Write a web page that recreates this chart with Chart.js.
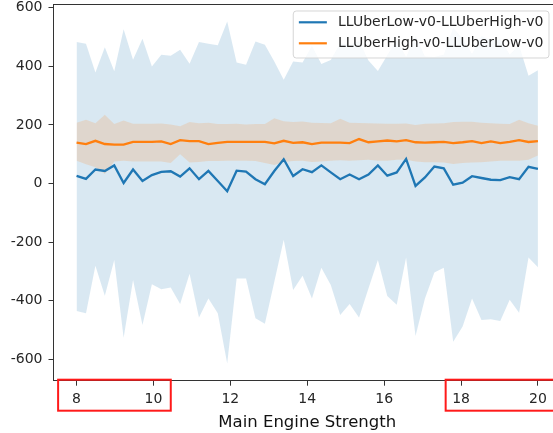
<!DOCTYPE html>
<html>
<head>
<meta charset="utf-8">
<script src="https://cdn.jsdelivr.net/npm/chart.js@4.4.0/dist/chart.umd.min.js"></script>
<style>
  html, body { margin: 0; padding: 0; background: #fff; overflow: hidden; }
  #wrap { width: 553px; height: 433px; overflow: hidden; position: relative; }
  canvas { display: block; }
</style>
</head>
<body>
<div id="wrap"><canvas id="c" width="600" height="433"></canvas></div>
<script>
// Main engine strength settings that were evaluated
const strengths = [
  8.000, 8.245, 8.490, 8.735, 8.980, 9.224, 9.469, 9.714, 9.959, 10.204,
  10.449, 10.694, 10.939, 11.184, 11.429, 11.673, 11.918, 12.163, 12.408, 12.653,
  12.898, 13.143, 13.388, 13.633, 13.878, 14.122, 14.367, 14.612, 14.857, 15.102,
  15.347, 15.592, 15.837, 16.082, 16.327, 16.571, 16.816, 17.061, 17.306, 17.551,
  17.796, 18.041, 18.286, 18.531, 18.776, 19.020, 19.265, 19.510, 19.755, 20.000
];

// LLUberLow-v0 -> LLUberHigh-v0 : mean return and the upper / lower band edges
const lowHighMean = [
  26, 16, 48, 43, 62, 2, 48, 9, 29, 40,
  42, 24, 52, 15, 43, 9, -26, 44, 41, 15,
  -2, 43, 83, 26, 49, 39, 62, 38, 15, 31,
  15, 31, 62, 27, 38, 84, -8, 21, 58, 52,
  -4, 3, 25, 19, 13, 12, 22, 15, 57, 50
];
const lowHighUpper = [
  483, 477, 379, 465, 383, 527, 423, 494, 400, 440,
  436, 457, 409, 483, 477, 472, 553, 413, 406, 485,
  474, 417, 354, 417, 413, 470, 408, 422, 479, 473,
  487, 420, 384, 438, 490, 432, 504, 434, 432, 440,
  532, 494, 442, 504, 489, 493, 441, 471, 368, 387
];
const lowHighLower = [
  -435, -443, -281, -383, -261, -526, -329, -483, -344, -361,
  -355, -411, -308, -457, -392, -443, -614, -324, -324, -460,
  -479, -335, -192, -363, -315, -392, -287, -346, -449, -411,
  -457, -358, -261, -384, -414, -252, -520, -392, -304, -287,
  -540, -488, -392, -466, -463, -469, -397, -441, -252, -286
];

// LLUberHigh-v0 -> LLUberLow-v0 : mean return and the upper / lower band edges
const highLowMean = [
  140, 135, 146, 135, 133, 133, 142, 142, 142, 144,
  135, 148, 145, 145, 135, 139, 142, 142, 142, 142,
  142, 137, 146, 139, 141, 135, 140, 140, 140, 138,
  152, 141, 144, 147, 144, 148, 141, 140, 141, 142,
  138, 141, 145, 138, 144, 138, 142, 148, 142, 145
];
const highLowUpper = [
  208, 218, 206, 235, 203, 215, 204, 204, 204, 205,
  202, 196, 210, 206, 208, 203, 203, 204, 202, 203,
  203, 223, 213, 210, 212, 208, 207, 206, 221, 208,
  207, 206, 205, 204, 204, 205, 200, 204, 205, 206,
  210, 211, 211, 208, 206, 204, 203, 218, 206, 197
];
const highLowLower = [
  78, 66, 56, 33, 75, 78, 75, 75, 75, 75,
  70, 100, 72, 74, 77, 77, 78, 78, 78, 77,
  70, 63, 74, 77, 78, 74, 75, 78, 80, 78,
  80, 81, 78, 78, 81, 81, 75, 73, 73, 72,
  67, 70, 72, 73, 75, 78, 78, 78, 81, 96
];

const xTickValues = [8, 10, 12, 14, 16, 18, 20];
const yTickValues = [-600, -400, -200, 0, 200, 400, 600];
const seriesNames = ['LLUberLow-v0-LLUberHigh-v0', 'LLUberHigh-v0-LLUberLow-v0'];
const xAxisTitle = 'Main Engine Strength';
// tick-label groups outlined in red underneath the axis
const highlightRanges = [[7.52, 10.45], [17.6, 21.0]];

const BLUE = '#1f77b4';
const ORANGE = '#ff7f0e';
const BLUE_BAND = 'rgba(31,119,180,0.17)';
const ORANGE_BAND = 'rgba(255,127,14,0.16)';
const INK = '#262626';
const SPINE = '#333333';

const pts = ys => strengths.map((x, i) => ({ x: x, y: ys[i] }));

Chart.defaults.font.family = '"DejaVu Sans", sans-serif';

// top spine of the axes box
const topSpine = {
  id: 'topSpine',
  afterDatasetsDraw(chart) {
    const { ctx, chartArea } = chart;
    ctx.save();
    ctx.strokeStyle = SPINE;
    ctx.lineWidth = 1;
    ctx.beginPath();
    ctx.moveTo(chartArea.left, Math.round(chartArea.top) + 0.5);
    ctx.lineTo(chartArea.right, Math.round(chartArea.top) + 0.5);
    ctx.stroke();
    ctx.restore();
  }
};

// framed legend in the upper right corner of the axes
const boxLegend = {
  id: 'boxLegend',
  afterDatasetsDraw(chart) {
    const { ctx, chartArea } = chart;
    const entries = [chart.data.datasets[0], chart.data.datasets[1]];
    const fs = 14;
    ctx.save();
    ctx.font = fs + 'px "DejaVu Sans", sans-serif';
    const pad = 5.6, handle = 28, gap = 11.2, rowH = 21;
    const textW = Math.max(...entries.map(d => ctx.measureText(d.label).width));
    const w = pad + handle + gap + textW + pad;
    const h = 47;
    const right = chartArea.right - 12;
    const x = right - w;
    const y = chartArea.top + 7;
    ctx.beginPath();
    ctx.roundRect(x, y, w, h, 3);
    ctx.fillStyle = 'rgba(255,255,255,0.8)';
    ctx.fill();
    ctx.strokeStyle = 'rgba(204,204,204,0.8)';
    ctx.lineWidth = 1;
    ctx.stroke();
    entries.forEach((d, i) => {
      const cy = y + 11.3 + i * rowH;
      ctx.strokeStyle = d.borderColor;
      ctx.lineWidth = 2.2;
      ctx.beginPath();
      ctx.moveTo(x + pad, cy);
      ctx.lineTo(x + pad + handle, cy);
      ctx.stroke();
      ctx.fillStyle = INK;
      ctx.textBaseline = 'middle';
      ctx.textAlign = 'left';
      ctx.fillText(d.label, x + pad + handle + gap, cy);
    });
    ctx.restore();
  }
};

// red outlines around groups of x tick labels
const labelOutlines = {
  id: 'labelOutlines',
  afterDraw(chart) {
    const { ctx, chartArea } = chart;
    const xs = chart.scales.x;
    ctx.save();
    ctx.strokeStyle = '#ff1a1a';
    ctx.lineWidth = 2;
    highlightRanges.forEach(([a, b]) => {
      const x0 = xs.getPixelForValue(a);
      const x1 = xs.getPixelForValue(b);
      ctx.strokeRect(x0, chartArea.bottom - 1, x1 - x0, 31);
    });
    ctx.restore();
  }
};

new Chart(document.getElementById('c'), {
  type: 'line',
  data: {
    datasets: [
      { label: seriesNames[0], data: pts(lowHighMean), borderColor: BLUE, borderWidth: 2.3, order: 1 },
      { label: seriesNames[1], data: pts(highLowMean), borderColor: ORANGE, borderWidth: 2.3, order: 0 },
      { label: 'band-a-upper', data: pts(lowHighUpper), borderColor: 'transparent', borderWidth: 0, backgroundColor: BLUE_BAND, fill: '+1', order: 10 },
      { label: 'band-a-lower', data: pts(lowHighLower), borderColor: 'transparent', borderWidth: 0, fill: false, order: 10 },
      { label: 'band-b-upper', data: pts(highLowUpper), borderColor: 'transparent', borderWidth: 0, backgroundColor: ORANGE_BAND, fill: '+1', order: 5 },
      { label: 'band-b-lower', data: pts(highLowLower), borderColor: 'transparent', borderWidth: 0, fill: false, order: 5 }
    ]
  },
  options: {
    responsive: false,
    animation: false,
    devicePixelRatio: 1,
    events: [],
    elements: { point: { radius: 0 }, line: { tension: 0 } },
    layout: { padding: { left: 0, top: 4, right: 39, bottom: 0 } },
    plugins: { legend: { display: false }, tooltip: { enabled: false } },
    scales: {
      x: {
        type: 'linear',
        min: 7.4,
        max: 20.6,
        afterBuildTicks: s => { s.ticks = xTickValues.map(v => ({ value: v })); },
        afterFit: s => { s.height = 52.3; s.paddingLeft = 0; s.paddingRight = 0; },
        grid: { drawOnChartArea: false, drawTicks: true, tickLength: 5, tickColor: SPINE },
        border: { display: true, color: SPINE, width: 1 },
        ticks: { font: { size: 14 }, color: INK, padding: 5, maxRotation: 0, autoSkip: false, callback: v => String(v) },
        title: { display: true, text: xAxisTitle, font: { size: 16.5 }, color: '#111', padding: { top: 0, bottom: 0 } }
      },
      y: {
        type: 'linear',
        min: -673,
        max: 613,
        afterBuildTicks: s => { s.ticks = yTickValues.map(v => ({ value: v })); },
        afterFit: s => { s.width = 53.5; s.paddingTop = 0; s.paddingBottom = 0; },
        grid: { drawOnChartArea: false, drawTicks: true, tickLength: 5, tickColor: SPINE },
        border: { display: true, color: SPINE, width: 1 },
        ticks: { font: { size: 14 }, color: INK, padding: 6, callback: v => String(v) }
      }
    }
  },
  plugins: [topSpine, boxLegend, labelOutlines]
});
</script>
</body>
</html>
